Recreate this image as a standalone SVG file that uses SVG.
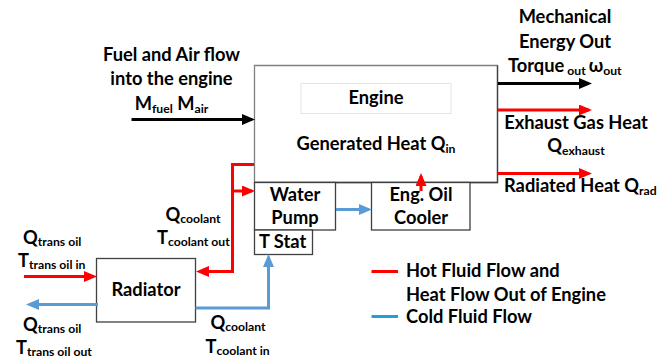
<svg xmlns="http://www.w3.org/2000/svg" width="671" height="358" viewBox="0 0 671 358">
<defs>
<style>
text{font-family:Lato,"Open Sans","Liberation Sans",sans-serif;font-weight:bold;font-size:18.3px;fill:#000}
.s{font-size:12.2px}
.box{fill:#fff;stroke:#404040;stroke-width:1.3}
.red{fill:none;stroke:#ff0000;stroke-width:3}
.blue{fill:none;stroke:#5b9bd5;stroke-width:3}
.blk{fill:none;stroke:#000;stroke-width:3}
</style>
<marker id="ah-k" markerUnits="userSpaceOnUse" markerWidth="13" markerHeight="11" refX="10" refY="5.5" orient="auto"><path d="M0,0L13,5.5L0,11z" fill="#000"/></marker>
<marker id="ah-r" markerUnits="userSpaceOnUse" markerWidth="13" markerHeight="11" refX="10" refY="5.5" orient="auto"><path d="M0,0L13,5.5L0,11z" fill="#ff0000"/></marker>
<marker id="ah-b" markerUnits="userSpaceOnUse" markerWidth="13" markerHeight="11" refX="10" refY="5.5" orient="auto"><path d="M0,0L13,5.5L0,11z" fill="#5b9bd5"/></marker>
</defs>
<rect width="671" height="358" fill="#fff"/>

<g id="engine">
<path d="M254.5,182.5V65.5H497.5V182.5Z" fill="#fff" stroke="#7f7f7f" stroke-width="1.3"/>
<path d="M497.5,65.5V182.5H254.5" fill="none" stroke="#404040" stroke-width="1.3"/>
<rect x="301" y="83.5" width="150" height="30" fill="#fff" stroke="#e3e3e3" stroke-width="1"/>
<text x="376" y="104" text-anchor="middle">Engine</text>
<text x="376" y="150" text-anchor="middle">Generated Heat Q<tspan class="s" dy="3">in</tspan></text>
</g>

<g id="water-pump">
<rect class="box" x="254.5" y="182.5" width="81" height="47.5"/>
<text x="295" y="200.5" text-anchor="middle">Water</text>
<text x="295" y="224" text-anchor="middle">Pump</text>
</g>

<g id="t-stat">
<rect class="box" x="254.5" y="230" width="58" height="24.5"/>
<text x="259" y="247.5">T Stat</text>
</g>

<g id="oil-cooler">
<rect class="box" x="371.5" y="182.5" width="98.5" height="47.5"/>
<text x="421" y="200.5" text-anchor="middle">Eng. Oil</text>
<text x="421" y="224" text-anchor="middle">Cooler</text>
</g>

<g id="radiator">
<rect class="box" x="96.5" y="258.5" width="99" height="63.5"/>
<text x="146" y="296" text-anchor="middle">Radiator</text>
</g>

<g id="connectors">
<line class="blk" x1="131.5" y1="119.5" x2="252" y2="119.5" marker-end="url(#ah-k)"/>
<line class="blk" x1="498" y1="83.5" x2="589" y2="83.5" marker-end="url(#ah-k)"/>
<line class="red" x1="498" y1="110" x2="589" y2="110" marker-end="url(#ah-r)"/>
<line class="red" x1="498" y1="173.5" x2="589" y2="173.5" marker-end="url(#ah-r)"/>
<polyline class="red" points="254,164.5 232.5,164.5 232.5,271.5 199,271.5" marker-end="url(#ah-r)"/>
<line class="red" x1="232.5" y1="191" x2="252" y2="191" marker-end="url(#ah-r)"/>
<line class="red" x1="421" y1="191" x2="421" y2="176" marker-end="url(#ah-r)"/>
<line class="red" x1="24" y1="276.5" x2="94" y2="276.5" marker-end="url(#ah-r)"/>
<line class="blue" x1="98" y1="304.5" x2="29" y2="304.5" marker-end="url(#ah-b)"/>
<polyline class="blue" points="195.5,308 268.5,308 268.5,257" marker-end="url(#ah-b)"/>
<line class="blue" x1="336" y1="209.5" x2="369" y2="209.5" marker-end="url(#ah-b)"/>
</g>

<g id="labels">
<text x="171.5" y="61" text-anchor="middle">Fuel and Air flow</text>
<text x="171.5" y="85" text-anchor="middle">into the engine</text>
<text x="171.5" y="110" text-anchor="middle">M<tspan class="s" dy="3">fuel</tspan><tspan dy="-3"> M</tspan><tspan class="s" dy="3">air</tspan></text>
<text x="565" y="23" text-anchor="middle">Mechanical</text>
<text x="565" y="47.5" text-anchor="middle">Energy Out</text>
<text x="508" y="72">Torque<tspan class="s" dy="3"> out </tspan><tspan dy="-3">ω</tspan><tspan class="s" dy="3">out</tspan></text>
<text x="576" y="129" text-anchor="middle">Exhaust Gas Heat</text>
<text x="576" y="151.5" text-anchor="middle">Q<tspan class="s" dy="3">exhaust</tspan></text>
<text x="504" y="191.5">Radiated Heat Q<tspan class="s" dy="3">rad</tspan></text>
<text x="23" y="244">Q<tspan class="s" dy="2">trans oil</tspan></text>
<text x="18" y="266.5">T<tspan class="s" dy="2">trans oil in</tspan></text>
<text x="23" y="330.5">Q<tspan class="s" dy="2">trans oil</tspan></text>
<text x="16" y="354">T<tspan class="s" dy="2">trans oil out</tspan></text>
<text x="165.5" y="220.5">Q<tspan class="s" dy="2">coolant</tspan></text>
<text x="157" y="244">T<tspan class="s" dy="2">coolant out</tspan></text>
<text x="210.5" y="329">Q<tspan class="s" dy="2">coolant</tspan></text>
<text x="205.5" y="353">T<tspan class="s" dy="2">coolant in</tspan></text>
</g>

<g id="legend">
<line x1="371.5" y1="271.5" x2="398" y2="271.5" stroke="#ff0000" stroke-width="3"/>
<line x1="371.5" y1="316.5" x2="398" y2="316.5" stroke="#1ca0e0" stroke-width="3"/>
<text x="406" y="277">Hot Fluid Flow and</text>
<text x="406" y="301">Heat Flow Out of Engine</text>
<text x="406" y="323">Cold Fluid Flow</text>
</g>
</svg>
